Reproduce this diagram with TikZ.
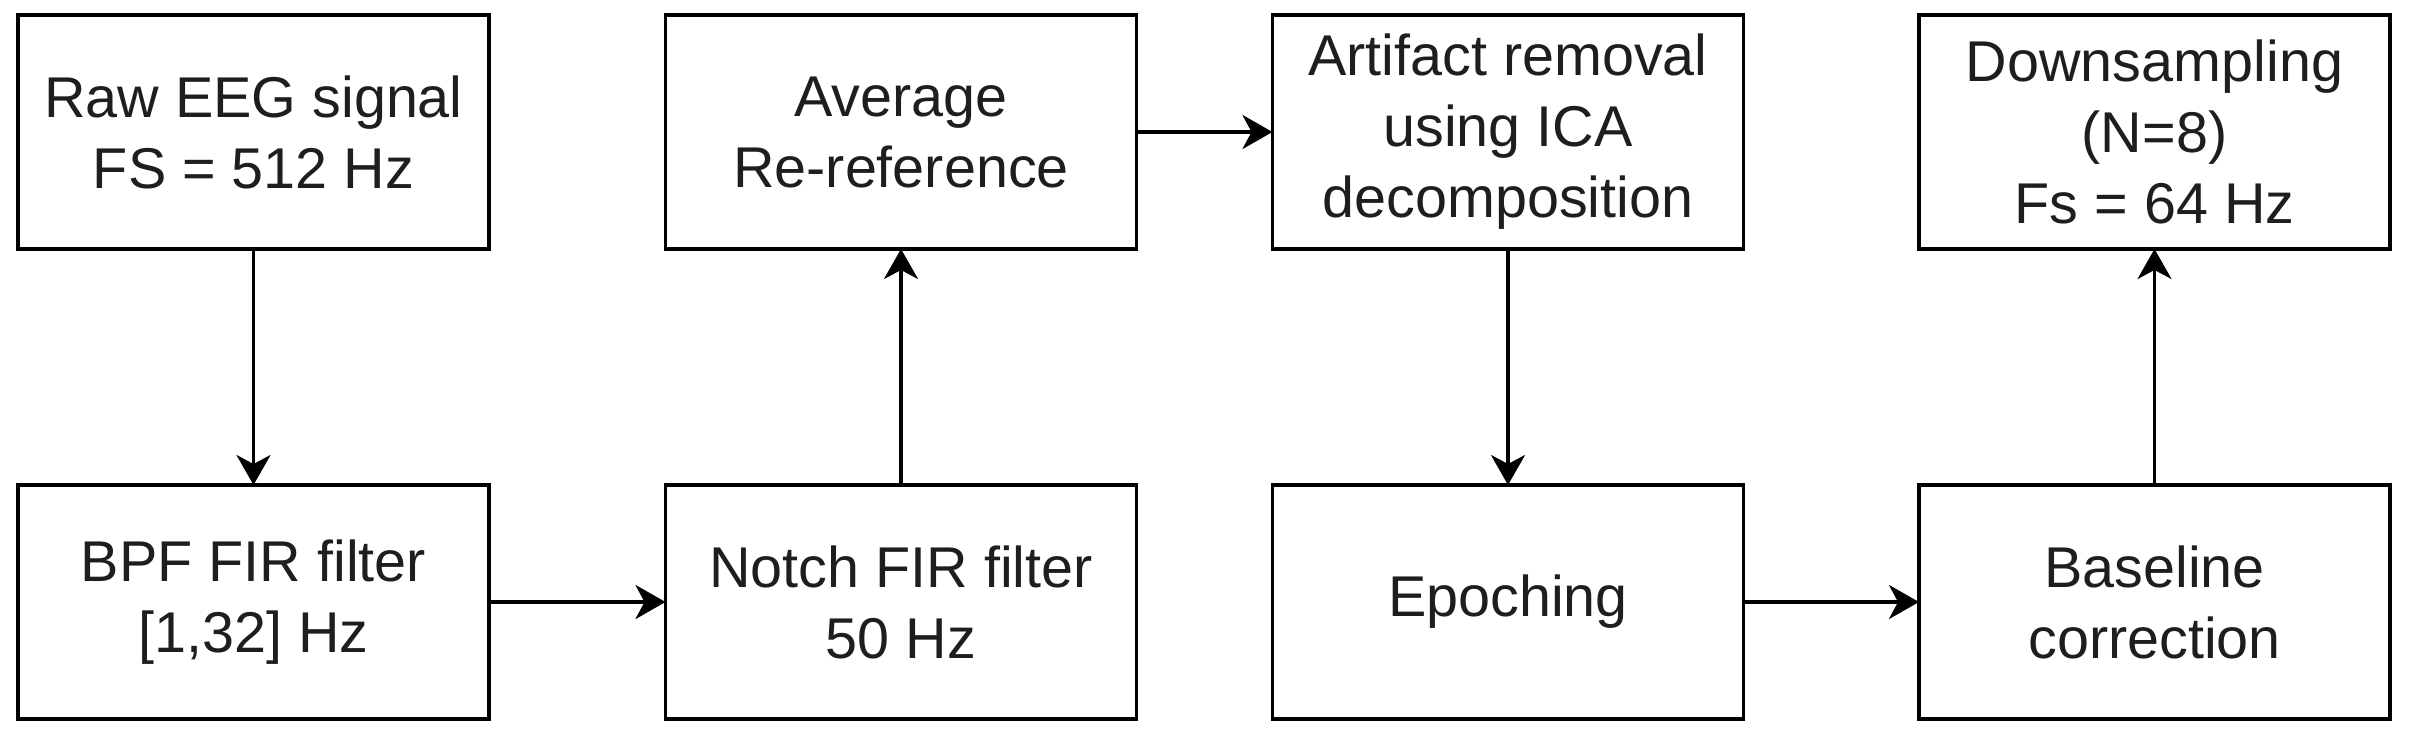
\documentclass[tikz,border=0pt]{standalone}
\usepackage{fontspec}
\setmainfont{Liberation Sans}
\usetikzlibrary{arrows.meta}
\definecolor{txt}{HTML}{1E1E1E}
\tikzset{
  stagebox/.style={draw=black, line width=3.3pt, rectangle, minimum width=471pt, minimum height=234pt,
    inner sep=0pt, outer sep=0pt, align=center, text=txt,
    font=\fontsize{57.5}{71}\selectfont},
  flow/.style={draw=black, line width=3.3pt, -{Stealth[length=30pt,width=34pt,inset=9pt]}}
}
\begin{document}
\begin{tikzpicture}[x=1pt,y=-1pt]
\useasboundingbox (0,0) rectangle (2409,745);
\node[stagebox] (raw) at (253.5,132) {Raw EEG signal\\FS = 512 Hz};
\node[stagebox] (bpf) at (253.5,602) {BPF FIR filter\\{[1,32]} Hz};
\node[stagebox] (notch) at (901,602) {Notch FIR filter\\50 Hz};
\node[stagebox] (avg) at (901,132) {Average\\Re-reference};
\node[stagebox] (ica) at (1508,132) {Artifact removal\\using ICA\\decomposition};
\node[stagebox] (epo) at (1508,602) {Epoching};
\node[stagebox] (base) at (2154.5,602) {Baseline\\correction};
\node[stagebox] (down) at (2154.5,132) {Downsampling\\(N=8)\\Fs = 64 Hz};
\draw[flow] (raw) -- (bpf);
\draw[flow] (bpf) -- (notch);
\draw[flow] (notch) -- (avg);
\draw[flow] (avg) -- (ica);
\draw[flow] (ica) -- (epo);
\draw[flow] (epo) -- (base);
\draw[flow] (base) -- (down);
\end{tikzpicture}
\end{document}
